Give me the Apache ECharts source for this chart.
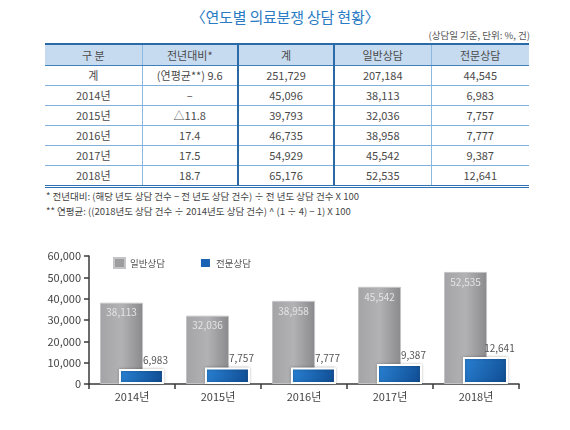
<!DOCTYPE html>
<html><head><meta charset="utf-8">
<script src="https://cdn.jsdelivr.net/npm/echarts@6/dist/echarts.min.js"></script>
<style>
html,body{margin:0;padding:0;background:#fff;width:570px;height:430px;overflow:hidden;font-family:"Noto Sans CJK KR","Noto Sans",sans-serif;}
#title{position:absolute;left:0;width:570px;top:6px;text-align:center;font-size:15px;color:#2b7bc4;letter-spacing:-0.2px;}
#unit{position:absolute;right:40px;top:28px;font-size:9.5px;color:#555;}
table{position:absolute;left:45px;top:43px;width:484px;border-collapse:collapse;table-layout:fixed;font-size:11px;color:#4a4a4a;}
th,td{text-align:center;padding:0;border-bottom:1px solid #7fb0de;border-right:1px solid #8db8e0;line-height:19px;height:19px;}
th{font-weight:normal;background:#c6daf0;height:20px;border-top:2px solid #2a6aa8;border-bottom:1px solid #3e7fbd;}
tr td:last-child, tr th:last-child{border-right:none;}
.tk{border-right:2px solid #2b6aa6 !important;}
tr.last td{border-bottom:3px double #2f72b4;}
#notes{position:absolute;left:46px;top:189px;font-size:9.5px;color:#444;line-height:15px;}
#chart{position:absolute;left:0;top:230px;width:570px;height:200px;}
</style></head>
<body>
<div id="title">〈연도별 의료분쟁 상담 현황〉</div>
<div id="unit">(상담일 기준, 단위: %, 건)</div>
<table id="tbl"></table>
<div id="notes">* 전년대비: (해당 년도 상담 건수 − 전 년도 상담 건수) ÷ 전 년도 상담 건수 X 100<br>** 연평균: ((2018년도 상담 건수 ÷ 2014년도 상담 건수) ^ (1 ÷ 4) − 1) X 100</div>
<div id="chart"></div>
<script>
// ---- data ----
var tableHeaders = ['구 분', '전년대비*', '계', '일반상담', '전문상담'];
var rowLabels = ['계', '2014년', '2015년', '2016년', '2017년', '2018년'];
var yoyChange = ['(연평균**) 9.6', '–', '△11.8', '17.4', '17.5', '18.7'];
var totalCounts = ['251,729', '45,096', '39,793', '46,735', '54,929', '65,176'];
var generalTableCol = ['207,184', '38,113', '32,036', '38,958', '45,542', '52,535'];
var expertTableCol = ['44,545', '6,983', '7,757', '7,777', '9,387', '12,641'];

var years = ['2014년', '2015년', '2016년', '2017년', '2018년'];
var generalCounts = [38113, 32036, 38958, 45542, 52535];
var expertCounts = [6983, 7757, 7777, 9387, 12641];
var seriesNames = ['일반상담', '전문상담'];

// ---- table ----
var tbl = document.getElementById('tbl');
var colW = [97, 96, 96, 97, 98];
var html = '<colgroup>' + colW.map(function(w){return '<col style="width:'+w+'px">';}).join('') + '</colgroup>';
html += '<tr>' + tableHeaders.map(function(h,i){return '<th'+((i===1||i===2)?' class="tk"':'')+'>'+h+'</th>';}).join('') + '</tr>';
for (var r = 0; r < rowLabels.length; r++) {
  var cells = [rowLabels[r], yoyChange[r], totalCounts[r], generalTableCol[r], expertTableCol[r]];
  html += '<tr' + (r === rowLabels.length-1 ? ' class="last"' : '') + '>' +
    cells.map(function(c,i){return '<td'+((i===1||i===2)?' class="tk"':'')+'>'+c+'</td>';}).join('') + '</tr>';
}
tbl.innerHTML = html;

// ---- chart ----
var chart = echarts.init(document.getElementById('chart'), null, {renderer:'canvas'});
var fmt = function(v){return Number(v).toLocaleString('en-US');};
chart.setOption({
  animation:false,
  textStyle:{fontFamily:'"Noto Sans CJK KR","Noto Sans",sans-serif'},
  legend:{
    left:108, top:22, itemWidth:11, itemHeight:10, itemGap:34, icon:'rect',
    textStyle:{fontSize:9.5, color:'#555'},
    data:[{name:seriesNames[0], itemStyle:{color:'#9d9d9f'}}, {name:seriesNames[1], itemStyle:{color:'#1a62b4'}}]
  },
  grid:{left:89, right:51, top:26, bottom:46},
  xAxis:{
    type:'category', data:years,
    axisLine:{lineStyle:{color:'#3a3a3a', width:1.5}},
    axisTick:{show:true, length:5, lineStyle:{color:'#3a3a3a', width:1.5}},
    axisLabel:{fontSize:11, color:'#444', margin:7}
  },
  yAxis:{
    type:'value', min:0, max:60000, interval:10000,
    axisLine:{show:true, lineStyle:{color:'#3a3a3a', width:1.5}},
    axisTick:{show:true, length:5, lineStyle:{color:'#3a3a3a', width:1.5}},
    splitLine:{show:false},
    axisLabel:{fontSize:11, color:'#444', margin:8, formatter:fmt}
  },
  series:[
    {
      name:seriesNames[0], type:'bar', data:generalCounts, barWidth:43, barGap:'-56%',
      itemStyle:{
        color:new echarts.graphic.LinearGradient(0,0,1,0,[
          {offset:0,color:'#a4a4a6'},{offset:0.5,color:'#b2b2b4'},{offset:1,color:'#8a8a8c'}]),
        borderColor:'#c4c4c6', borderWidth:1
      },
      label:{show:true, position:'insideTop', distance:5, color:'#e4e4e4', fontSize:10, formatter:function(p){return fmt(p.value);}}
    },
    {
      name:seriesNames[1], type:'bar', data:expertCounts, barWidth:45,
      itemStyle:{
        color:new echarts.graphic.LinearGradient(0,0,1,1,[
          {offset:0,color:'#2a82d4'},{offset:1,color:'#0e4a90'}]),
        borderColor:'#ffffff', borderWidth:2,
        shadowColor:'rgba(0,0,0,0.25)', shadowBlur:3
      },
      label:{show:true, position:'top', distance:4, offset:[14,0], color:'#555', fontSize:10, formatter:function(p){return fmt(p.value);}}
    }
  ]
});
</script>
</body></html>
